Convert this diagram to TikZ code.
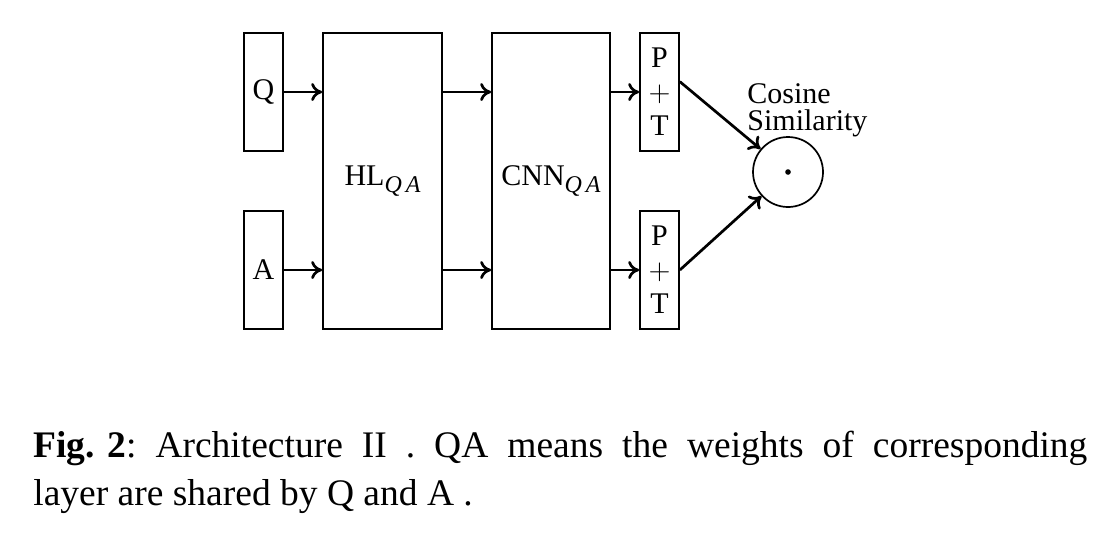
\documentclass[tikz,border=0pt]{standalone}
\usepackage{fontspec}
\setmainfont{Liberation Serif}
\usepackage{tikz}
\usepackage{amsmath}
\usetikzlibrary{arrows.meta}

\newcommand{\qasub}{\raisebox{-3.5pt}{\fontsize{12}{12}\selectfont\itshape Q\,A}}

\begin{document}
\begin{tikzpicture}[x=0.5pt,y=-0.5pt,
    every node/.style={font=\fontsize{15}{17}\selectfont},
    layerbox/.style={draw,line width=0.85pt,inner sep=0pt},
    flow/.style={-{To[length=5.5pt,width=9pt]},line width=1.35pt}]
          \useasboundingbox (0,0) rectangle (1106,532);
          % inputs
          \node[layerbox,minimum width=19.5pt,minimum height=59pt] (q) at (263.5,92) {Q};
          \node[layerbox,minimum width=19.5pt,minimum height=59pt] (a) at (263.5,270) {A};
          % shared hidden layer
          \node[layerbox,minimum width=59.5pt,minimum height=148pt] (hl) at (382.5,181) {HL\qasub};
          % shared cnn
          \node[layerbox,minimum width=59pt,minimum height=148pt] (cnn) at (551,181) {CNN\qasub};
          % pooling and tanh
          \node[layerbox,minimum width=19.5pt,minimum height=59pt,align=center] (ptq) at (659.5,92) {P\\$+$\\T};
          \node[layerbox,minimum width=19.5pt,minimum height=59pt,align=center] (pta) at (659.5,270) {P\\$+$\\T};
          % cosine similarity
          \node[draw,circle,line width=0.85pt,minimum size=35pt,inner sep=0pt] (cos) at (788,172) {};
          \fill (cos.center) circle (1.4pt);
          \node[anchor=north west,align=left,inner sep=0pt,font=\fontsize{15}{13.5}\selectfont] (cossim) at (747,83) {Cosine\\Similarity};
          % arrows
          \draw[flow] (q.east) -- (q.east -| hl.west);
          \draw[flow] (a.east) -- (a.east -| hl.west);
          \draw[flow] (hl.east |- q.east) -- (cnn.west |- q.east);
          \draw[flow] (hl.east |- a.east) -- (cnn.west |- a.east);
          \draw[flow] (cnn.east |- ptq.west) -- (ptq.west);
          \draw[flow] (cnn.east |- pta.west) -- (pta.west);
          \draw[flow] (ptq.27) -- (cos);
          \draw[flow] (pta.east) -- (cos);
          % caption
          \node[anchor=north west,inner sep=0pt,text width=527pt,align=justify,font=\fontsize{18.75}{24}\selectfont] (caption) at (33,431)
            {\mbox{\textbf{Fig. 2}:} Architecture II . QA means the weights of corresponding\linebreak layer are shared by Q and A .};
        \end{tikzpicture}
\end{document}
